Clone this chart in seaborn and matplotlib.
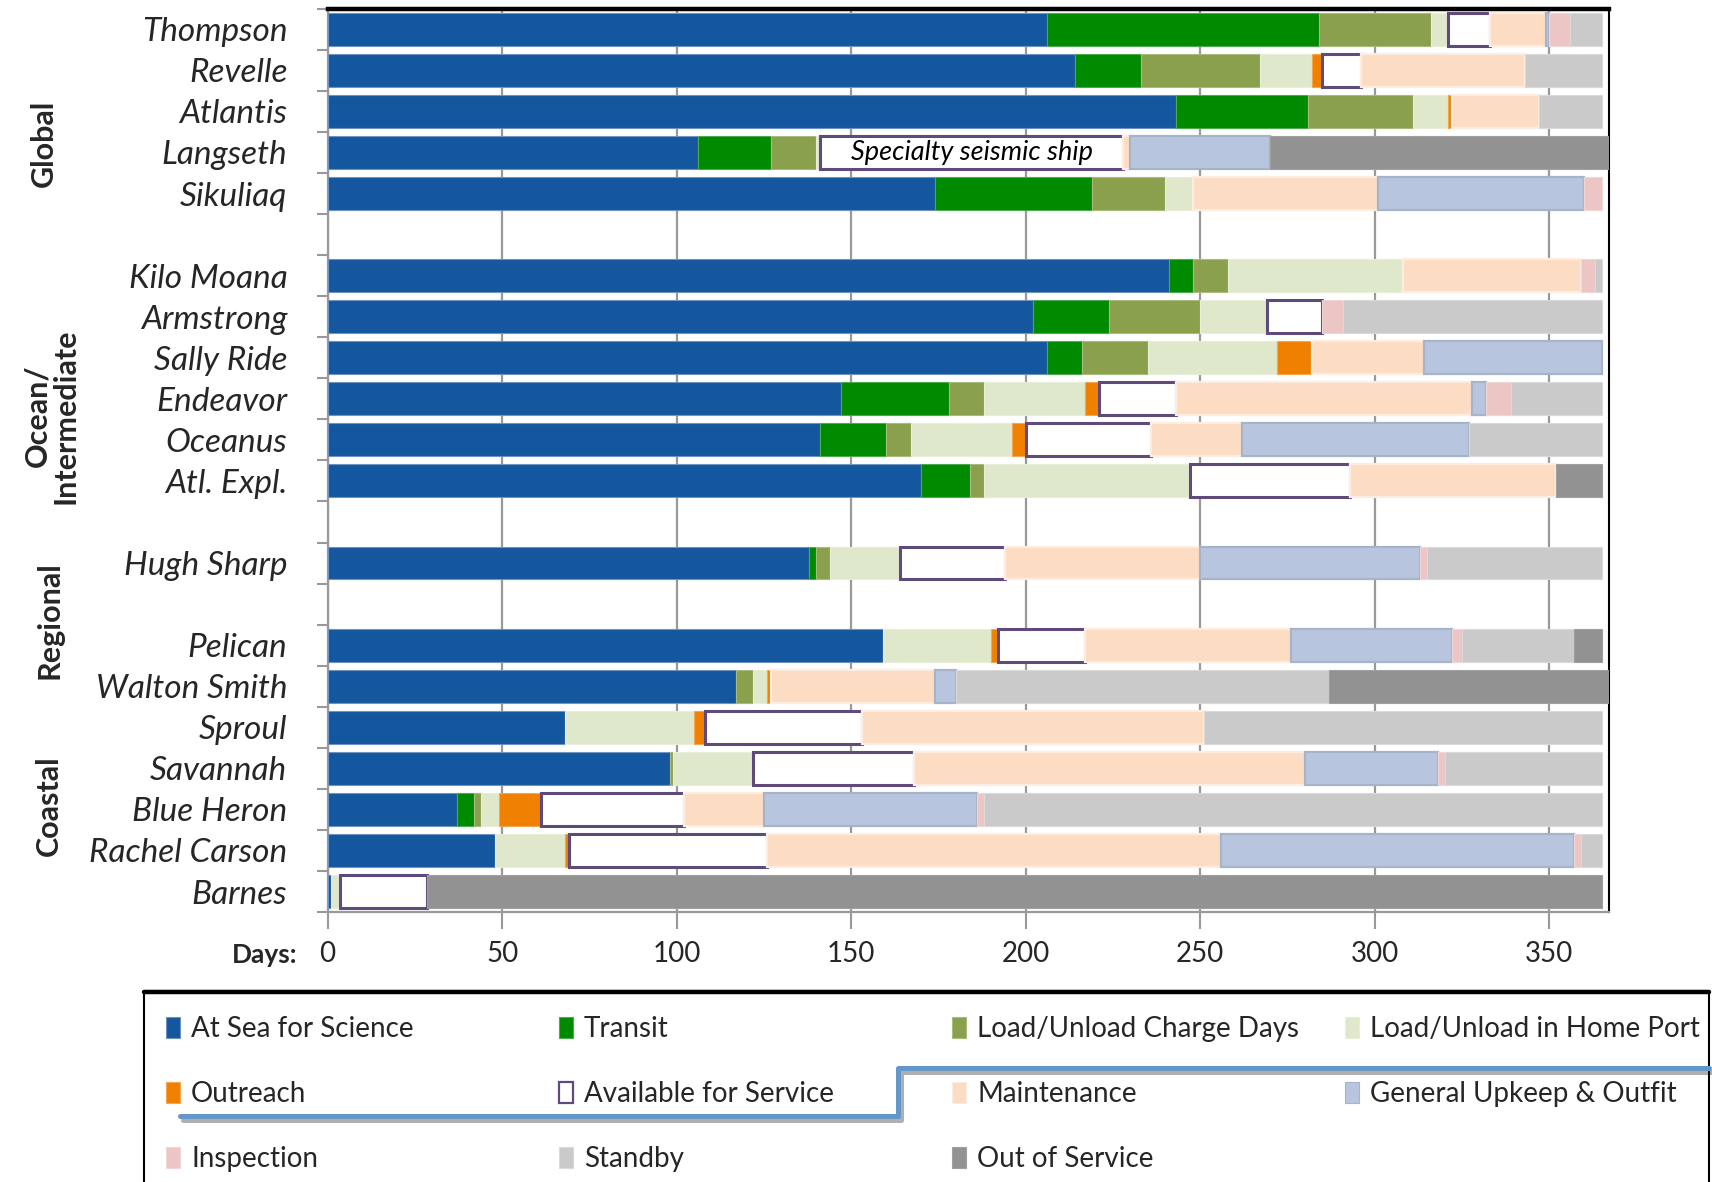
import numpy as np
import pandas as pd
import matplotlib
matplotlib.use("Agg")
import matplotlib.pyplot as plt
import matplotlib.patheffects as pe
import matplotlib.transforms as mtransforms
from matplotlib.patches import Patch, Rectangle
from matplotlib.lines import Line2D
import seaborn as sns

# ---------------- data ----------------
ships = ["Thompson", "Revelle", "Atlantis", "Langseth", "Sikuliaq",
         "Kilo Moana", "Armstrong", "Sally Ride", "Endeavor", "Oceanus", "Atl. Expl.",
         "Hugh Sharp",
         "Pelican", "Walton Smith", "Sproul", "Savannah", "Blue Heron", "Rachel Carson", "Barnes"]
groups = ["Global"] * 5 + ["Ocean/\nIntermediate"] * 6 + ["Regional"] + ["Coastal"] * 7

categories = ["At Sea for Science", "Transit", "Load/Unload Charge Days", "Load/Unload in Home Port",
              "Outreach", "Available for Service", "Maintenance", "General Upkeep & Outfit",
              "Inspection", "Standby", "Out of Service"]

at_sea      = [206, 214, 243, 106, 174, 241, 202, 206, 147, 141, 170, 138, 159, 117, 68, 98, 37, 48, 1]
transit     = [78, 19, 38, 21, 45, 7, 22, 10, 31, 19, 14, 2, 0, 0, 0, 0, 5, 0, 0]
charge_days = [32, 34, 30, 13, 21, 10, 26, 19, 10, 7, 4, 4, 0, 5, 0, 1, 2, 0, 0]
home_port   = [5, 15, 10, 1, 8, 50, 19, 37, 29, 29, 59, 20, 31, 4, 37, 23, 5, 20, 2.5]
outreach    = [0, 3, 1, 0, 0, 0, 0, 10, 4, 4, 0, 0, 2, 1, 3, 0, 12, 1, 0]
available   = [12, 11, 0, 87, 0, 0, 16, 0, 22, 36, 46, 30, 25, 0, 45, 46, 41, 57, 25]
maintenance = [16, 47, 25, 2, 53, 51, 0, 32, 85, 26, 59, 56, 59, 47, 98, 112, 23, 130, 0]
upkeep      = [1, 0, 0, 40, 59, 0, 0, 51, 4, 65, 0, 63, 46, 6, 0, 38, 61, 101, 0]
inspection  = [6, 0, 0, 0, 5, 4, 6, 0, 7, 0, 0, 2, 3, 0, 0, 2, 2, 2, 0]
standby     = [9, 22, 18, 0, 0, 2, 74, 0, 26, 38, 0, 50, 32, 107, 114, 45, 177, 6, 0]
out_service = [0, 0, 0, 97, 0, 0, 0, 0, 0, 0, 13, 0, 8, 80, 0, 0, 0, 0, 336.5]

series = [at_sea, transit, charge_days, home_port, outreach, available,
          maintenance, upkeep, inspection, standby, out_service]

x_ticks = [0, 50, 100, 150, 200, 250, 300, 350]
annotation = "Specialty seismic ship"

# ---------------- styles ----------------
face = ["#15579E", "#008A00", "#8AA04C", "#DFE8CB", "#F08000", "#FFFFFF",
        "#FCDCC2", "#B7C5DE", "#ECC5C5", "#CACACA", "#929292"]
edge = ["#6F93C0", "#4DAA4D", "#A9BB7E", "#E8EEDA", "#F6A650", "#5E4A7B",
        "#FDECE0", "#A7B3C8", "#F1D6D6", "#DADADA", "#A0A0A0"]
lws = [0.8, 0.8, 0.8, 0.8, 0.8, 2.2, 1.6, 1.6, 0.8, 0.8, 0.8]

FONT = ["Lato", "DejaVu Sans"]

# slot order with blank gaps between groups
slot_keys = []
slot_labels = []
blank = 0
prev = None
for s, g in zip(ships, groups):
    if prev is not None and g != prev:
        blank += 1
        slot_keys.append(" " * blank)
        slot_labels.append("")
    slot_keys.append(s)
    slot_labels.append(s)
    prev = g
slot_pos = {k: i for i, k in enumerate(slot_keys)}

rows = []
for i, s in enumerate(ships):
    cum = 0.0
    for c, vals in zip(categories, series):
        v = vals[i]
        rows.append(dict(ship=s, group=groups[i], category=c, days=v, left=cum,
                         pos=slot_pos[s]))
        cum += v
df = pd.DataFrame(rows)

# ---------------- figure ----------------
sns.set_theme(style="white")
plt.rcParams["font.family"] = FONT

W, H = 1712, 1182
fig = plt.figure(figsize=(W / 100, H / 100), dpi=100)
ax = fig.add_axes([0.1914, 0.2284, 0.7482, 0.7642])

for ci, c in enumerate(categories):
    sub = df[(df.category == c) & (df.days > 0)].sort_values("pos")
    if sub.empty:
        continue
    sns.barplot(data=sub, x="days", y="ship", order=slot_keys, orient="y",
                errorbar=None, saturation=1, width=0.8,
                color=face[ci], edgecolor=edge[ci], linewidth=lws[ci],
                left=sub["left"].to_numpy(), ax=ax, zorder=3)

# annotation in Langseth's available segment
ai = categories.index("Available for Service")
lrow = df[(df.ship == "Langseth") & (df.category == categories[ai])].iloc[0]
ax.text(lrow.left + lrow.days / 2, slot_pos["Langseth"], annotation,
        ha="center", va="center", fontsize=19.5, style="italic", color="black",
        zorder=5)

ax.set_xlim(0, 367)
ax.set_ylim(len(slot_keys) - 0.5, -0.5)
ax.set_xticks(x_ticks)
ax.set_xticklabels([str(t) for t in x_ticks], fontsize=20)
ax.set_yticks(range(len(slot_keys)))
ax.set_yticklabels(slot_labels, fontsize=24, style="italic")
ax.set_yticks(np.arange(-0.5, len(slot_keys), 1.0), minor=True)
ax.set_xlabel("")
ax.set_ylabel("")

ax.tick_params(axis="y", which="major", length=0, pad=29)
ax.tick_params(axis="y", which="minor", length=8, width=1.5, color="#999999", left=True)
ax.tick_params(axis="x", which="major", length=12, width=1.5, color="#999999",
               direction="out", bottom=True, pad=9)

ax.set_axisbelow(True)
ax.xaxis.grid(True, color="#999999", linewidth=1.6)
ax.yaxis.grid(False)

for side, col, lw in [("top", "black", 3.2), ("right", "black", 1.5),
                      ("left", "#999999", 1.6), ("bottom", "#999999", 1.6)]:
    ax.spines[side].set_visible(True)
    ax.spines[side].set_color(col)
    ax.spines[side].set_linewidth(lw)

# group labels
blend = mtransforms.blended_transform_factory(fig.transFigure, ax.transData)
group_pos = {"Global": (0.0255, 2.79), "Ocean/\nIntermediate": (0.0300, 9.42),
             "Regional": (0.0287, 14.4), "Coastal": (0.0287, 18.92)}
for g, (gx, gy) in group_pos.items():
    ax.text(gx, gy, g, transform=blend, rotation=90, ha="center", va="center",
            fontsize=22, fontweight="bold", linespacing=1.0, multialignment="center")

fig.text(297 / W, 1 - 955 / H, "Days:", ha="right", va="center", fontsize=19,
         fontweight="bold")

# legend frame
frame = Rectangle((144 / W, -0.05), (1709 - 144) / W, 0.05 + (1182 - 991.5) / H,
                  transform=fig.transFigure, facecolor="white", edgecolor="black",
                  linewidth=1.5, zorder=0)
fig.patches.append(frame)
fig.add_artist(Line2D([144 / W, 1709 / W], [1 - 991.5 / H] * 2,
                      transform=fig.transFigure, color="black", linewidth=3.2))

# decorative connector line
conn = Line2D([180 / W, 898 / W, 898 / W, 1709 / W],
              [1 - 1116 / H, 1 - 1116 / H, 1 - 1068 / H, 1 - 1068 / H],
              transform=fig.transFigure, color="#6497C9", linewidth=3.6,
              path_effects=[pe.SimpleLineShadow(offset=(2, -3), alpha=0.35),
                            pe.Normal()])
fig.add_artist(conn)

# legend, 4 columns, row-major reading order
handles = [Patch(facecolor=face[i], edgecolor=edge[i],
                 linewidth=1.6 if i == ai else 0.8) for i in range(len(categories))]
col_x = [166, 559, 952, 1345]
for j in range(4):
    idx = [k for k in range(j, len(categories), 4)]
    fig.legend([handles[k] for k in idx], [categories[k] for k in idx],
               loc="upper left", bbox_to_anchor=(col_x[j] / W, 1 - 1016 / H),
               bbox_transform=fig.transFigure, frameon=False, fontsize=20,
               handlelength=0.5, handleheight=0.8, handletextpad=0.4,
               labelspacing=1.4, borderpad=0, borderaxespad=0)

fig.savefig("out.png", dpi=100)
